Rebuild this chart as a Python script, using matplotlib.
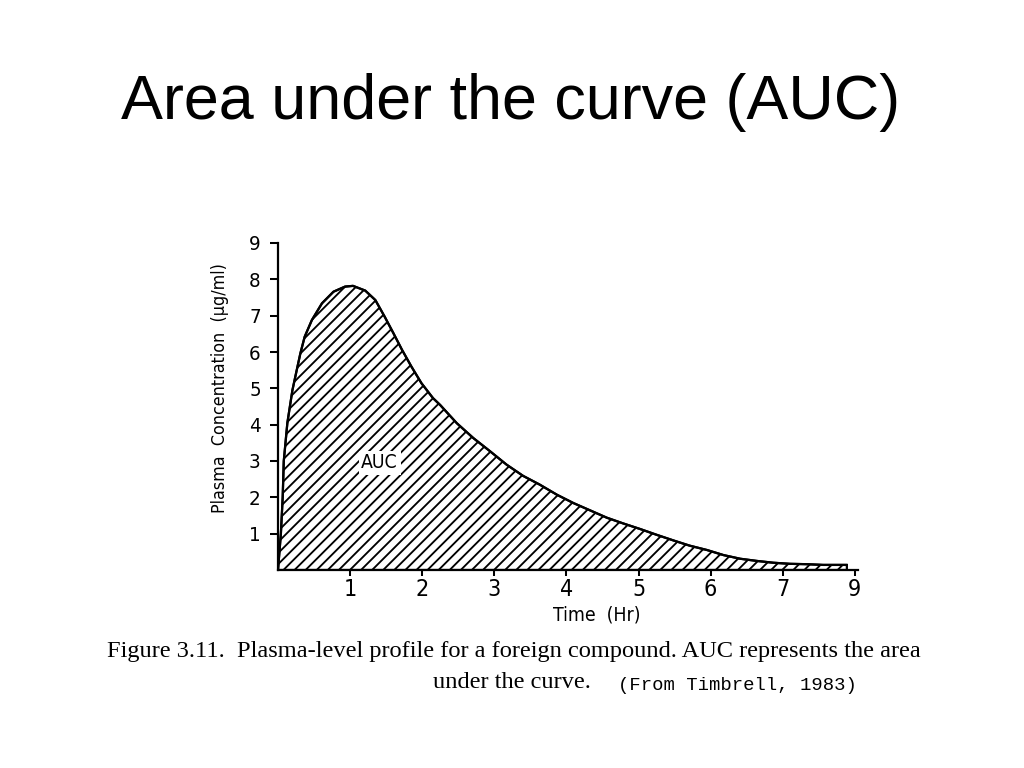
import matplotlib
matplotlib.use("Agg")
import matplotlib.pyplot as plt

# ---- data ----
time_hr = [0, 0.04, 0.065, 0.08, 0.13, 0.2, 0.24, 0.31, 0.37, 0.47, 0.61, 0.77,
           0.93, 1.04, 1.21, 1.35, 1.48, 1.6, 1.72, 1.85, 1.99, 2.15,
           2.25, 2.48, 2.71, 2.94, 3.17, 3.40, 3.63, 3.87, 4.10, 4.33, 4.56,
           4.79, 5.02, 5.25, 5.49, 5.71, 5.95, 6.18, 6.41, 6.64, 6.87, 7.10,
           7.33, 7.56, 7.89]
conc = [0, 1.0, 2.0, 3.0, 4.05, 4.95, 5.32, 5.96, 6.42, 6.88, 7.34, 7.66,
        7.8, 7.82, 7.69, 7.43, 6.97, 6.52, 6.06, 5.6, 5.14, 4.73,
        4.54, 4.04, 3.63, 3.27, 2.90, 2.59, 2.35, 2.07, 1.84, 1.64, 1.44,
        1.28, 1.13, 0.97, 0.81, 0.67, 0.55, 0.41, 0.31, 0.25, 0.20, 0.17,
        0.16, 0.14, 0.14]
x_tick_pos = [1, 2, 3, 4, 5, 6, 7, 8]
x_tick_labels = ['1', '2', '3', '4', '5', '6', '7', '9']
y_ticks = [1, 2, 3, 4, 5, 6, 7, 8, 9]

TITLE = "Area under the curve (AUC)"
YLABEL = "Plasma  Concentration  (\u00b5g/ml)"
XLABEL = "Time  (Hr)"
CAP1 = "Figure 3.11.  Plasma-level profile for a foreign compound. AUC represents the area"
CAP2 = "under the curve."
CAP3 = "(From Timbrell, 1983)"

NARROW = dict(family='DejaVu Sans', stretch='condensed')

DPI = 1024 / 7.68
fig = plt.figure(figsize=(7.68, 5.76), dpi=DPI)
plt.rcParams['hatch.linewidth'] = 1.0

W, H = 1024, 768
left, right, top, bottom = 278, 858, 243, 570
ax = fig.add_axes([left / W, 1 - bottom / H, (right - left) / W, (bottom - top) / H])

ax.fill_between(time_hr, conc, 0, facecolor='white', edgecolor='black',
                hatch='////', linewidth=1.2)
ax.plot(time_hr, conc, color='black', lw=1.2, solid_joinstyle='round')

ax.set_xlim(0, (right - left) / 72.1)
ax.set_ylim(0, 9)
for s in ['top', 'right']:
    ax.spines[s].set_visible(False)
for s in ['left', 'bottom']:
    ax.spines[s].set_linewidth(1.2)

ax.set_xticks(x_tick_pos)
ax.set_xticklabels(x_tick_labels, fontsize=12.5, **NARROW)
ax.set_yticks(y_ticks)
ax.set_yticklabels([str(v) for v in y_ticks], fontsize=11, **NARROW)
ax.tick_params(axis='x', direction='out', length=3.2, width=1.1, pad=1)
ax.tick_params(axis='y', direction='out', length=4.3, width=1.1, pad=5)

ax.text(1.41, 2.95, 'AUC', fontsize=10.5, ha='center', va='center',
        bbox=dict(facecolor='white', edgecolor='none', pad=1.5), **NARROW)

fig.text(511 / W, 1 - 102 / H, TITLE, family=['Liberation Sans', 'DejaVu Sans'],
         fontsize=34, ha='center', va='center')
fig.text(220 / W, 1 - 388 / H, YLABEL, fontsize=9.6,
         rotation=90, ha='center', va='center', **NARROW)
fig.text(597 / W, 1 - 615 / H, XLABEL, fontsize=10.5,
         ha='center', va='center', **NARROW)
fig.text(514 / W, 1 - 652 / H, CAP1, family=['Liberation Serif', 'DejaVu Serif'],
         fontsize=13.2, ha='center', va='center')
fig.text(433 / W, 1 - 682 / H, CAP2, family=['Liberation Serif', 'DejaVu Serif'],
         fontsize=13.2, ha='left', va='center')
fig.text(618 / W, 1 - 686 / H, CAP3, family=['Liberation Mono', 'DejaVu Sans Mono'],
         fontsize=10.2, ha='left', va='center')

fig.savefig('out.png', dpi=DPI)
